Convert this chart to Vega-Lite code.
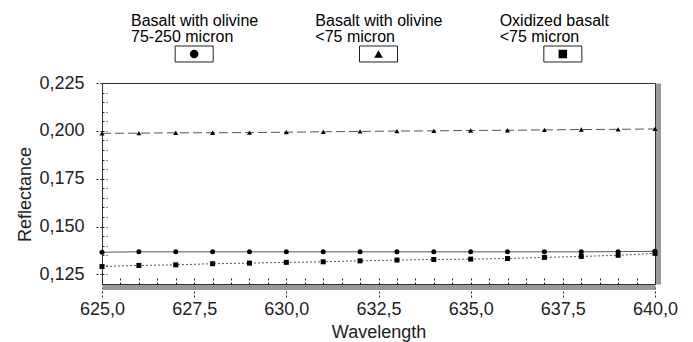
{
  "$schema": "https://vega.github.io/schema/vega-lite/v6.json",
  "background": "white",
  "padding": {"left": 16, "top": 12, "right": 5, "bottom": 3},
  "bounds": "flush",
  "spacing": 15,
  "datasets": {
    "keys": [
      {"series": "Basalt with olivine 75-250 micron", "label": "Basalt with olivine\n75-250 micron"},
      {"series": "Basalt with olivine <75 micron", "label": "Basalt with olivine\n<75 micron"},
      {"series": "Oxidized basalt <75 micron", "label": "Oxidized basalt\n<75 micron"}
    ],
    "spectra": [
      {"series": "Basalt with olivine 75-250 micron", "wavelength": 625, "reflectance": 0.1366},
      {"series": "Basalt with olivine 75-250 micron", "wavelength": 626, "reflectance": 0.1368},
      {"series": "Basalt with olivine 75-250 micron", "wavelength": 627, "reflectance": 0.1368},
      {"series": "Basalt with olivine 75-250 micron", "wavelength": 628, "reflectance": 0.1368},
      {"series": "Basalt with olivine 75-250 micron", "wavelength": 629, "reflectance": 0.1368},
      {"series": "Basalt with olivine 75-250 micron", "wavelength": 630, "reflectance": 0.1368},
      {"series": "Basalt with olivine 75-250 micron", "wavelength": 631, "reflectance": 0.1368},
      {"series": "Basalt with olivine 75-250 micron", "wavelength": 632, "reflectance": 0.1368},
      {"series": "Basalt with olivine 75-250 micron", "wavelength": 633, "reflectance": 0.1368},
      {"series": "Basalt with olivine 75-250 micron", "wavelength": 634, "reflectance": 0.1368},
      {"series": "Basalt with olivine 75-250 micron", "wavelength": 635, "reflectance": 0.1368},
      {"series": "Basalt with olivine 75-250 micron", "wavelength": 636, "reflectance": 0.1368},
      {"series": "Basalt with olivine 75-250 micron", "wavelength": 637, "reflectance": 0.1368},
      {"series": "Basalt with olivine 75-250 micron", "wavelength": 638, "reflectance": 0.1368},
      {"series": "Basalt with olivine 75-250 micron", "wavelength": 639, "reflectance": 0.1369},
      {"series": "Basalt with olivine 75-250 micron", "wavelength": 640, "reflectance": 0.1371},
      {"series": "Basalt with olivine <75 micron", "wavelength": 625, "reflectance": 0.1987},
      {"series": "Basalt with olivine <75 micron", "wavelength": 626, "reflectance": 0.1988},
      {"series": "Basalt with olivine <75 micron", "wavelength": 627, "reflectance": 0.1990},
      {"series": "Basalt with olivine <75 micron", "wavelength": 628, "reflectance": 0.1990},
      {"series": "Basalt with olivine <75 micron", "wavelength": 629, "reflectance": 0.1991},
      {"series": "Basalt with olivine <75 micron", "wavelength": 630, "reflectance": 0.1993},
      {"series": "Basalt with olivine <75 micron", "wavelength": 631, "reflectance": 0.1995},
      {"series": "Basalt with olivine <75 micron", "wavelength": 632, "reflectance": 0.1997},
      {"series": "Basalt with olivine <75 micron", "wavelength": 633, "reflectance": 0.1999},
      {"series": "Basalt with olivine <75 micron", "wavelength": 634, "reflectance": 0.2000},
      {"series": "Basalt with olivine <75 micron", "wavelength": 635, "reflectance": 0.2002},
      {"series": "Basalt with olivine <75 micron", "wavelength": 636, "reflectance": 0.2003},
      {"series": "Basalt with olivine <75 micron", "wavelength": 637, "reflectance": 0.2005},
      {"series": "Basalt with olivine <75 micron", "wavelength": 638, "reflectance": 0.2007},
      {"series": "Basalt with olivine <75 micron", "wavelength": 639, "reflectance": 0.2008},
      {"series": "Basalt with olivine <75 micron", "wavelength": 640, "reflectance": 0.2010},
      {"series": "Oxidized basalt <75 micron", "wavelength": 625, "reflectance": 0.1291},
      {"series": "Oxidized basalt <75 micron", "wavelength": 626, "reflectance": 0.1297},
      {"series": "Oxidized basalt <75 micron", "wavelength": 627, "reflectance": 0.1300},
      {"series": "Oxidized basalt <75 micron", "wavelength": 628, "reflectance": 0.1306},
      {"series": "Oxidized basalt <75 micron", "wavelength": 629, "reflectance": 0.1309},
      {"series": "Oxidized basalt <75 micron", "wavelength": 630, "reflectance": 0.1313},
      {"series": "Oxidized basalt <75 micron", "wavelength": 631, "reflectance": 0.1316},
      {"series": "Oxidized basalt <75 micron", "wavelength": 632, "reflectance": 0.1321},
      {"series": "Oxidized basalt <75 micron", "wavelength": 633, "reflectance": 0.1325},
      {"series": "Oxidized basalt <75 micron", "wavelength": 634, "reflectance": 0.1328},
      {"series": "Oxidized basalt <75 micron", "wavelength": 635, "reflectance": 0.1330},
      {"series": "Oxidized basalt <75 micron", "wavelength": 636, "reflectance": 0.1333},
      {"series": "Oxidized basalt <75 micron", "wavelength": 637, "reflectance": 0.1339},
      {"series": "Oxidized basalt <75 micron", "wavelength": 638, "reflectance": 0.1344},
      {"series": "Oxidized basalt <75 micron", "wavelength": 639, "reflectance": 0.1350},
      {"series": "Oxidized basalt <75 micron", "wavelength": 640, "reflectance": 0.1360}
    ]
  },
  "vconcat": [
    {
      "width": 553,
      "height": 56,
      "view": {"stroke": null},
      "data": {"name": "keys"},
      "layer": [
        {
          "mark": {"type": "text", "lineBreak": "\n", "font": "Liberation Sans", "fontSize": 16, "lineHeight": 16, "baseline": "alphabetic", "align": "left", "dx": 29, "color": "black"},
          "encoding": {
            "x": {"field": "series", "type": "nominal", "bandPosition": 0, "scale": {"type": "band", "domain": ["Basalt with olivine 75-250 micron", "Basalt with olivine <75 micron", "Oxidized basalt <75 micron"], "paddingInner": 0, "paddingOuter": 0}, "axis": null},
            "y": {"datum": "label", "type": "nominal", "scale": {"type": "point", "domain": ["label", "key"], "padding": 0.5}, "axis": null},
            "text": {"field": "label", "type": "nominal"}
          }
        },
        {
          "mark": {"type": "point", "shape": "M-1,-0.421H1V0.421H-1Z", "filled": false, "stroke": "#222", "strokeWidth": 1, "size": 1444, "opacity": 1},
          "encoding": {
            "x": {"field": "series", "type": "nominal", "scale": {"type": "band", "domain": ["Basalt with olivine 75-250 micron", "Basalt with olivine <75 micron", "Oxidized basalt <75 micron"], "paddingInner": 0, "paddingOuter": 0}, "axis": null},
            "y": {"datum": "key", "type": "nominal", "scale": {"type": "point", "domain": ["label", "key"], "padding": 0.5}, "axis": null}
          }
        },
        {
          "mark": {"type": "point", "filled": true, "color": "black", "size": 72, "opacity": 1},
          "encoding": {
            "x": {"field": "series", "type": "nominal", "scale": {"type": "band", "domain": ["Basalt with olivine 75-250 micron", "Basalt with olivine <75 micron", "Oxidized basalt <75 micron"], "paddingInner": 0, "paddingOuter": 0}, "axis": null},
            "y": {"datum": "key", "type": "nominal", "scale": {"type": "point", "domain": ["label", "key"], "padding": 0.5}, "axis": null},
            "shape": {"field": "series", "type": "nominal", "scale": {"domain": ["Basalt with olivine 75-250 micron", "Basalt with olivine <75 micron", "Oxidized basalt <75 micron"], "range": ["circle", "triangle-up", "square"]}, "legend": null}
          }
        }
      ]
    },
    {
      "width": 553,
      "height": 201,
      "view": {"stroke": "#333", "strokeWidth": 1},
      "data": {"name": "spectra"},
      "resolve": {"axis": {"x": "independent", "y": "independent"}},
      "layer": [
        {
          "mark": {"type": "line", "strokeWidth": 1, "color": "#555"},
          "encoding": {
            "x": {"field": "wavelength", "type": "quantitative", "scale": {"domain": [625, 640], "nice": false, "zero": false},
              "axis": {"orient": "bottom", "values": [625, 627.5, 630, 632.5, 635, 637.5, 640], "labelExpr": "replace(format(datum.value, '.1f'), '.', ',')", "labelFlush": false, "title": "Wavelength", "tickSize": 12, "tickDash": [2, 2], "tickColor": "#222", "tickWidth": 1, "offset": 3, "domain": true, "domainColor": "#999", "domainWidth": 5, "labelPadding": 1.5, "titlePadding": 5, "grid": false}},
            "y": {"field": "reflectance", "type": "quantitative", "scale": {"domain": [0.12, 0.225], "nice": false, "zero": false},
              "axis": {"orient": "left", "values": [0.125, 0.15, 0.175, 0.2, 0.225], "labelExpr": "replace(format(datum.value, '.3f'), '.', ',')", "labelFlush": false, "title": "Reflectance", "titleY": 111, "tickSize": 6, "tickDash": [2, 2], "tickColor": "#222", "domain": false, "labelPadding": 12, "titlePadding": 4, "grid": false}},
            "strokeDash": {"field": "series", "type": "nominal", "scale": {"domain": ["Basalt with olivine 75-250 micron", "Basalt with olivine <75 micron", "Oxidized basalt <75 micron"], "range": [[1, 0], [9, 4], [2, 2]]}, "legend": null}
          }
        },
        {
          "mark": {"type": "point", "filled": true, "color": "black", "size": 25, "opacity": 1},
          "encoding": {
            "x": {"field": "wavelength", "type": "quantitative", "scale": {"domain": [625, 640], "nice": false, "zero": false},
              "axis": {"orient": "bottom", "values": [625, 625.5, 626, 626.5, 627, 627.5, 628, 628.5, 629, 629.5, 630, 630.5, 631, 631.5, 632, 632.5, 633, 633.5, 634, 634.5, 635, 635.5, 636, 636.5, 637, 637.5, 638, 638.5, 639, 639.5, 640], "tickSize": -8, "tickDash": [2, 2], "tickColor": "#222", "labels": false, "domain": false, "title": null, "grid": false}},
            "y": {"field": "reflectance", "type": "quantitative", "scale": {"domain": [0.12, 0.225], "nice": false, "zero": false},
              "axis": {"orient": "left", "values": [0.12, 0.125, 0.13, 0.135, 0.14, 0.145, 0.15, 0.155, 0.16, 0.165, 0.17, 0.175, 0.18, 0.185, 0.19, 0.195, 0.2, 0.205, 0.21, 0.215, 0.22, 0.225], "tickSize": -5, "tickDash": [2, 2], "tickColor": "#222", "labels": false, "domain": false, "title": null, "grid": false}},
            "shape": {"field": "series", "type": "nominal", "scale": {"domain": ["Basalt with olivine 75-250 micron", "Basalt with olivine <75 micron", "Oxidized basalt <75 micron"], "range": ["circle", "triangle-up", "square"]}, "legend": null}
          }
        },
        {
          "mark": {"type": "point", "opacity": 0},
          "encoding": {
            "x": {"field": "wavelength", "type": "quantitative", "scale": {"domain": [625, 640], "nice": false, "zero": false}, "axis": null},
            "y": {"field": "reflectance", "type": "quantitative", "scale": {"domain": [0.12, 0.225], "nice": false, "zero": false},
              "axis": {"orient": "right", "ticks": false, "labels": false, "title": null, "domain": true, "domainColor": "#999", "domainWidth": 5, "offset": 3, "grid": false}}
          }
        }
      ]
    }
  ],
  "config": {
    "font": "Liberation Sans",
    "axis": {"labelFont": "Liberation Sans", "titleFont": "Liberation Sans", "labelFontSize": 18, "titleFontSize": 18, "titleFontWeight": "normal", "labelColor": "#222", "titleColor": "#222", "grid": false}
  }
}
